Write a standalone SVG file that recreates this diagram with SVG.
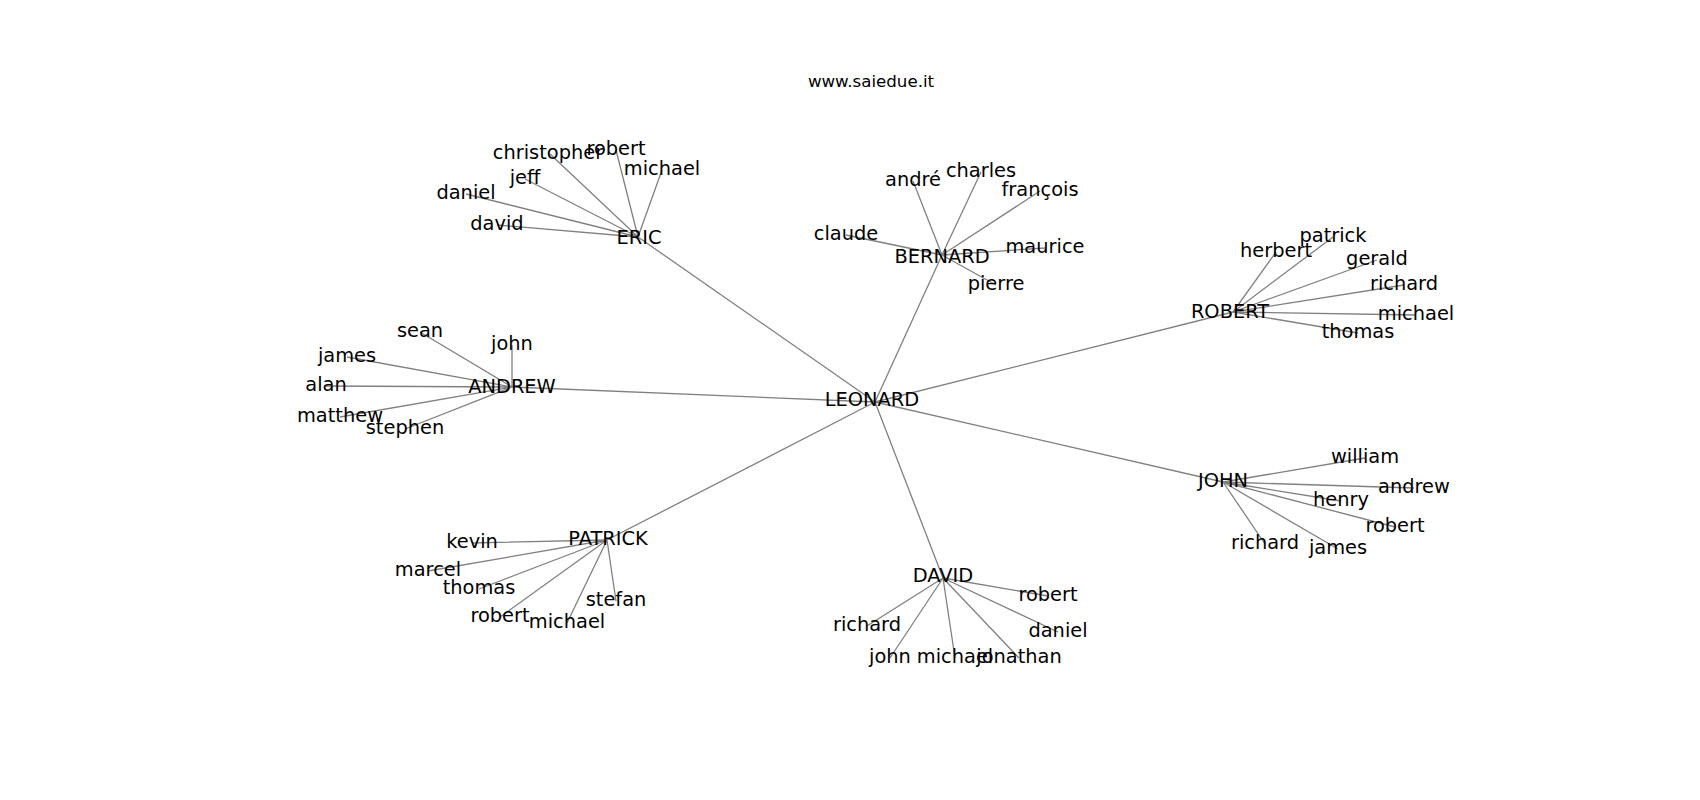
<svg xmlns="http://www.w3.org/2000/svg" width="1700" height="800" viewBox="0 0 1700 800">
<style>
.e{stroke:#808080;stroke-width:1.3;fill:none}
text{font-family:"DejaVu Sans","Liberation Sans",sans-serif;fill:#000;text-anchor:middle}
.n{font-size:19.4px}
.t{font-size:16.67px}
</style>
<rect width="1700" height="800" fill="#fff"/>
<text class="t" x="871" y="87">www.saiedue.it</text>
<g id="edges" class="e">
<path d="M875 402L638 237M875 402L942 255M875 402L1233 312M875 402L512 387M875 402L1223 482M875 402L607 540M875 402L943 578"/>
<path d="M638 237L550 154M638 237L616 150M638 237L662 170M638 237L525 179M638 237L466 194M638 237L497 225"/>
<path d="M942 255L913 181M942 255L981 172M942 255L1040 191M942 255L846 235M942 255L1045 248M942 255L996 285"/>
<path d="M1233 312L1333 237M1233 312L1276 252M1233 312L1377 260M1233 312L1404 285M1233 312L1416 315M1233 312L1358 333"/>
<path d="M512 387L420 332M512 387L512 345M512 387L347 357M512 387L326 386M512 387L340 417M512 387L405 429"/>
<path d="M1223 482L1365 458M1223 482L1414 488M1223 482L1341 501M1223 482L1395 527M1223 482L1265 544M1223 482L1338 549"/>
<path d="M607 540L472 543M607 540L428 571M607 540L479 589M607 540L616 601M607 540L500 617M607 540L567 623"/>
<path d="M943 578L1048 596M943 578L867 626M943 578L1058 632M943 578L890 658M943 578L955 658M943 578L1019 658"/>
</g>
<g id="LEONARD"><text class="n" x="872" y="406">LEONARD</text></g>
<g id="ERIC"><text class="n" x="639" y="244">ERIC</text></g>
<g id="ERIC-christopher"><text class="n" x="548" y="159">christopher</text></g>
<g id="ERIC-robert"><text class="n" x="616" y="155">robert</text></g>
<g id="ERIC-michael"><text class="n" x="662" y="175">michael</text></g>
<g id="ERIC-jeff"><text class="n" x="525" y="184">jeff</text></g>
<g id="ERIC-daniel"><text class="n" x="466" y="199">daniel</text></g>
<g id="ERIC-david"><text class="n" x="497" y="230">david</text></g>
<g id="BERNARD"><text class="n" x="942" y="263">BERNARD</text></g>
<g id="BERNARD-andre"><text class="n" x="913" y="186">andré</text></g>
<g id="BERNARD-charles"><text class="n" x="981" y="177">charles</text></g>
<g id="BERNARD-francois"><text class="n" x="1040" y="196">françois</text></g>
<g id="BERNARD-claude"><text class="n" x="846" y="240">claude</text></g>
<g id="BERNARD-maurice"><text class="n" x="1045" y="253">maurice</text></g>
<g id="BERNARD-pierre"><text class="n" x="996" y="290">pierre</text></g>
<g id="ROBERT"><text class="n" x="1230" y="318">ROBERT</text></g>
<g id="ROBERT-patrick"><text class="n" x="1333" y="242">patrick</text></g>
<g id="ROBERT-herbert"><text class="n" x="1276" y="257">herbert</text></g>
<g id="ROBERT-gerald"><text class="n" x="1377" y="265">gerald</text></g>
<g id="ROBERT-richard"><text class="n" x="1404" y="290">richard</text></g>
<g id="ROBERT-michael"><text class="n" x="1416" y="320">michael</text></g>
<g id="ROBERT-thomas"><text class="n" x="1358" y="338">thomas</text></g>
<g id="ANDREW"><text class="n" x="512" y="393">ANDREW</text></g>
<g id="ANDREW-sean"><text class="n" x="420" y="337">sean</text></g>
<g id="ANDREW-john"><text class="n" x="512" y="350">john</text></g>
<g id="ANDREW-james"><text class="n" x="347" y="362">james</text></g>
<g id="ANDREW-alan"><text class="n" x="326" y="391">alan</text></g>
<g id="ANDREW-matthew"><text class="n" x="340" y="422">matthew</text></g>
<g id="ANDREW-stephen"><text class="n" x="405" y="434">stephen</text></g>
<g id="JOHN"><text class="n" x="1223" y="487">JOHN</text></g>
<g id="JOHN-william"><text class="n" x="1365" y="463">william</text></g>
<g id="JOHN-andrew"><text class="n" x="1414" y="493">andrew</text></g>
<g id="JOHN-henry"><text class="n" x="1341" y="506">henry</text></g>
<g id="JOHN-robert"><text class="n" x="1395" y="532">robert</text></g>
<g id="JOHN-richard"><text class="n" x="1265" y="549">richard</text></g>
<g id="JOHN-james"><text class="n" x="1338" y="554">james</text></g>
<g id="PATRICK"><text class="n" x="608" y="545">PATRICK</text></g>
<g id="PATRICK-kevin"><text class="n" x="472" y="548">kevin</text></g>
<g id="PATRICK-marcel"><text class="n" x="428" y="576">marcel</text></g>
<g id="PATRICK-thomas"><text class="n" x="479" y="594">thomas</text></g>
<g id="PATRICK-stefan"><text class="n" x="616" y="606">stefan</text></g>
<g id="PATRICK-robert"><text class="n" x="500" y="622">robert</text></g>
<g id="PATRICK-michael"><text class="n" x="567" y="628">michael</text></g>
<g id="DAVID"><text class="n" x="943" y="582">DAVID</text></g>
<g id="DAVID-robert"><text class="n" x="1048" y="601">robert</text></g>
<g id="DAVID-richard"><text class="n" x="867" y="631">richard</text></g>
<g id="DAVID-daniel"><text class="n" x="1058" y="637">daniel</text></g>
<g id="DAVID-john"><text class="n" x="890" y="663">john</text></g>
<g id="DAVID-michael"><text class="n" x="955" y="663">michael</text></g>
<g id="DAVID-jonathan"><text class="n" x="1019" y="663">jonathan</text></g>
</svg>
